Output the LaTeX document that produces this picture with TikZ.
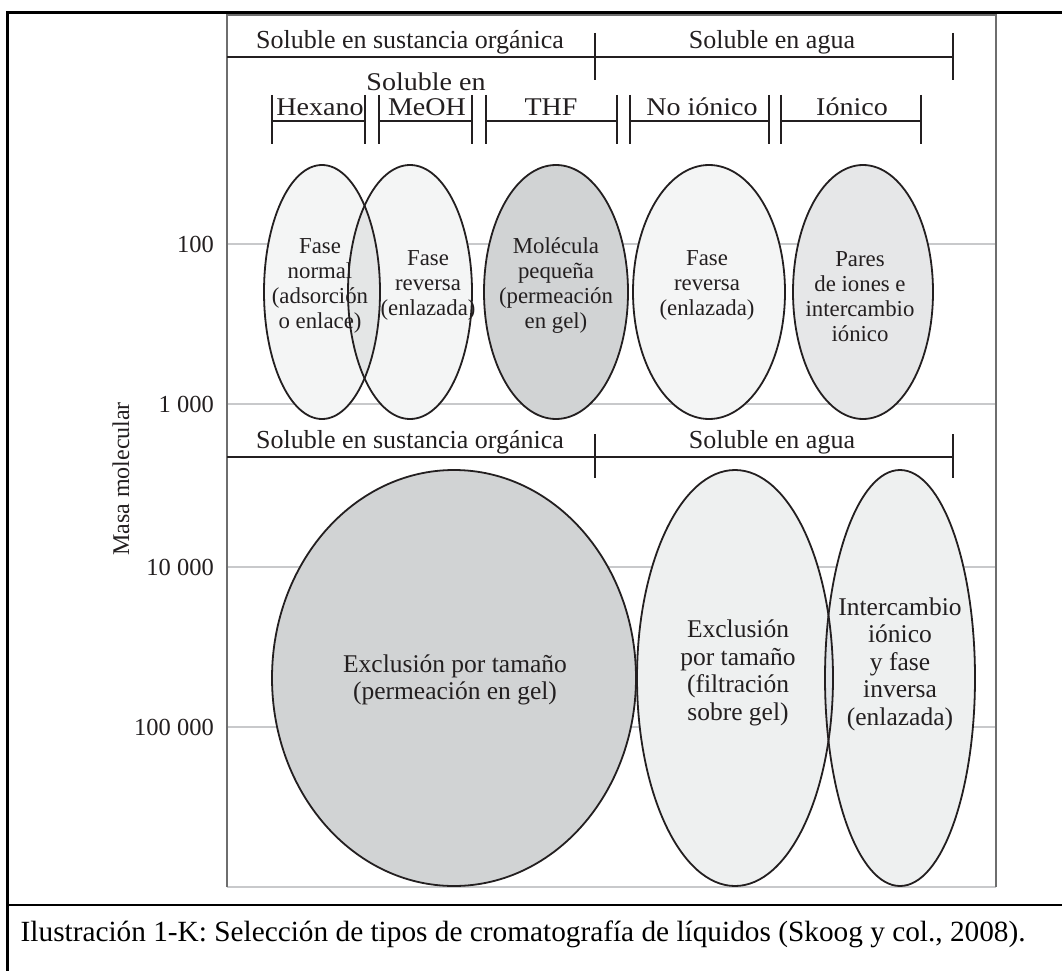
\documentclass[tikz,border=0pt]{standalone}
\usepackage{fontspec}
\setmainfont{Liberation Serif}
\newfontfamily\widerm[FakeStretch=1.1]{Liberation Serif}
\definecolor{ink}{HTML}{231F20}
\definecolor{paleA}{HTML}{F4F5F5}
\definecolor{paleB}{HTML}{EEF0F0}
\definecolor{greyD}{HTML}{D1D3D4}
\definecolor{greyM}{HTML}{E6E7E8}
\definecolor{lapA}{HTML}{E4E6E6}
\definecolor{lapB}{HTML}{E0E4E8}
\definecolor{gridc}{HTML}{C8C9CB}
\definecolor{framec}{HTML}{6E6E6E}
\begin{document}
\begin{tikzpicture}[x=1pt,y=-1pt,
  rule/.style={draw=ink,line width=1.3pt},
  gridline/.style={draw=gridc,line width=1.6pt},
  oval/.style={draw=ink,line width=1.8pt},
  head/.style={font=\fontsize{26}{28}\selectfont,text=ink,inner sep=0pt,anchor=base},
  sub/.style={font=\widerm\fontsize{25.5}{27}\selectfont,text=ink,inner sep=0pt,anchor=base},
  tickl/.style={font=\fontsize{24.5}{26}\selectfont,text=ink,inner sep=0pt,anchor=east},
  intop/.style={font=\fontsize{22.8}{25}\selectfont,text=ink,inner sep=0pt,align=center},
  inbot/.style={font=\fontsize{25.5}{27.5}\selectfont,text=ink,inner sep=0pt,align=center}]
\useasboundingbox (0,0) rectangle (1062,971);
\fill[white] (0,0) rectangle (1062,971);

% table cell borders
\draw[line width=2.6pt] (7.5,971) -- (7.5,12.5) -- (1062,12.5);
\draw[line width=2.6pt] (7.5,905) -- (1062,905);

% grid lines of the molecular mass scale
\foreach \yy in {244,404,567,727}
  \draw[gridline] (227,\yy) -- (996,\yy);

% plot frame
\draw[gridc,line width=2pt] (227,887) -- (996,887);
\draw[framec,line width=2pt] (227,887) -- (227,15) -- (996,15) -- (996,887);

% upper solubility brackets
\draw[rule] (227,57) -- (953,57);
\draw[rule] (595,33) -- (595,80);
\draw[rule] (953,33) -- (953,80);
\node[head] (hOrg) at (410,49) {Soluble en sustancia orgánica};
\node[head] (hAgua) at (772,49) {Soluble en agua};

% solvent brackets
\foreach \a/\b in {272/365,379/472,486/617,630/769,781/921}{
  \draw[rule] (\a,121) -- (\b,121);
  \draw[rule] (\a,95) -- (\a,144);
  \draw[rule] (\b,95) -- (\b,144);
}
\node[sub] (sHex) at (320,116) {Hexano};
\node[sub] (sMeA) at (426,91) {Soluble en};
\node[sub] (sMeB) at (427,116) {MeOH};
\node[sub] (sThf) at (551,116) {THF};
\node[sub] (sNoi) at (702,116) {No iónico};
\node[sub] (sIon) at (852,116) {Iónico};

% lower solubility brackets
\draw[rule] (227,457) -- (953,457);
\draw[rule] (595,434) -- (595,478);
\draw[rule] (953,434) -- (953,478);
\node[head] (hOrg2) at (410,448) {Soluble en sustancia orgánica};
\node[head] (hAgua2) at (772,448) {Soluble en agua};

% ellipse fills
\fill[paleA] (322,292) ellipse [x radius=58,y radius=127];
\fill[paleA] (410,292) ellipse [x radius=62,y radius=127];
\fill[greyD] (556,292) ellipse [x radius=72,y radius=127];
\fill[paleA] (709,292) ellipse [x radius=76,y radius=127];
\fill[greyM] (863,292) ellipse [x radius=70,y radius=127];
\fill[greyD] (454,678) ellipse [x radius=182,y radius=208];
\fill[paleB] (735,678) ellipse [x radius=98,y radius=208];
\fill[paleB] (900,678) ellipse [x radius=75,y radius=208];
\begin{scope}
  \clip (322,292) ellipse [x radius=58,y radius=127];
  \fill[lapA] (410,292) ellipse [x radius=62,y radius=127];
\end{scope}
\begin{scope}
  \clip (735,678) ellipse [x radius=98,y radius=208];
  \fill[lapB] (900,678) ellipse [x radius=75,y radius=208];
\end{scope}

% method labels
\node[intop] (tNorm) at (320,286) {Fase\\normal\\(adsorción\\o enlace)};
\node[intop] (tRev) at (428,285) {Fase\\reversa\\(enlazada)};
\node[intop] (tMol) at (556,286) {Molécula\\pequeña\\(permeación\\en gel)};
\node[intop] (tRev2) at (707,285) {Fase\\reversa\\(enlazada)};
\node[intop] (tPar) at (860,297) {Pares\\de iones e\\intercambio\\iónico};
\node[inbot] (tExc) at (455,680) {Exclusión por tamaño\\(permeación en gel)};
\node[inbot] (tFil) at (738,673) {Exclusión\\por tamaño\\(filtración\\sobre gel)};
\node[inbot] (tInt) at (900,664) {Intercambio\\iónico\\y fase\\inversa\\(enlazada)};

% ellipse outlines
\draw[oval] (322,292) ellipse [x radius=58,y radius=127];
\draw[oval] (410,292) ellipse [x radius=62,y radius=127];
\draw[oval] (556,292) ellipse [x radius=72,y radius=127];
\draw[oval] (709,292) ellipse [x radius=76,y radius=127];
\draw[oval] (863,292) ellipse [x radius=70,y radius=127];
\draw[oval] (454,678) ellipse [x radius=182,y radius=208];
\draw[oval] (735,678) ellipse [x radius=98,y radius=208];
\draw[oval] (900,678) ellipse [x radius=75,y radius=208];

% axis labels
\node[tickl] (m2) at (214,244) {100};
\node[tickl] (m3) at (214,404) {1 000};
\node[tickl] (m4) at (214,567) {10 000};
\node[tickl] (m5) at (214,727) {100 000};
\node[font=\fontsize{24}{26}\selectfont,text=ink,inner sep=0pt,rotate=90] (axis) at (121,479) {Masa molecular};

% caption
\node[font=\fontsize{29.3}{32}\selectfont,inner sep=0pt,anchor=base west] (cap) at (20.5,941.5)
  {Ilustración 1-K: Selección de tipos de cromatografía de líquidos (Skoog y col., 2008).};
\end{tikzpicture}
\end{document}
